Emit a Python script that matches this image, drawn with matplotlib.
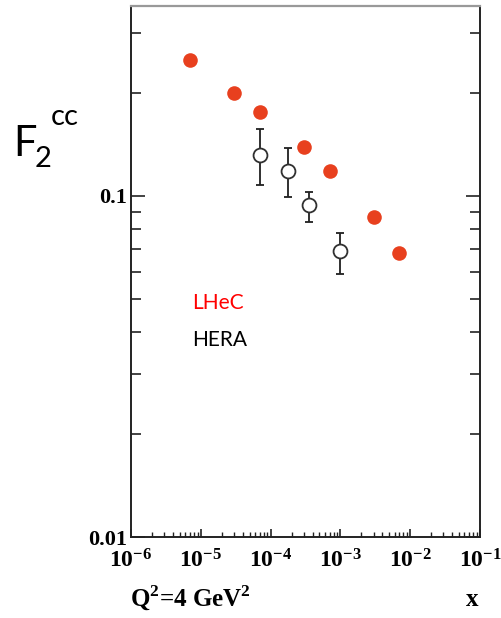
import matplotlib.pyplot as plt
from matplotlib.ticker import LogLocator, NullFormatter, FixedLocator

plt.rcParams['mathtext.fontset'] = 'custom'
plt.rcParams['mathtext.rm'] = 'Liberation Serif:bold'
plt.rcParams['mathtext.bf'] = 'Liberation Serif:bold'

# LHeC pseudo-data
lhec_x = [7e-6, 3e-5, 7e-5, 3e-4, 7e-4, 3e-3, 7e-3]
lhec_f2cc = [0.250, 0.201, 0.176, 0.139, 0.118, 0.087, 0.068]

# HERA measurements
hera_x = [7e-5, 1.8e-4, 3.5e-4, 1e-3]
hera_f2cc = [0.132, 0.118, 0.094, 0.069]
hera_up = [0.157, 0.138, 0.103, 0.078]
hera_lo = [0.108, 0.099, 0.084, 0.059]

xtick_vals = [1e-6, 1e-5, 1e-4, 1e-3, 1e-2, 1e-1]
xtick_labels = [r'$\mathbf{10^{-6}}$', r'$\mathbf{10^{-5}}$', r'$\mathbf{10^{-4}}$',
                r'$\mathbf{10^{-3}}$', r'$\mathbf{10^{-2}}$', r'$\mathbf{10^{-1}}$']

fig = plt.figure(figsize=(5.02, 6.18), dpi=100)
ax = fig.add_axes([0.261, 0.131, 0.695, 0.859])

ax.set_xscale('log')
ax.set_yscale('log')
ax.set_xlim(1e-6, 1e-1)
ax.set_ylim(0.01, 0.36)

ax.plot(lhec_x, lhec_f2cc, 'o', color='#e8401e', ms=10.5, mec='none', zorder=3)

err_lo = [v - l for v, l in zip(hera_f2cc, hera_lo)]
err_hi = [u - v for v, u in zip(hera_f2cc, hera_up)]
ax.errorbar(hera_x, hera_f2cc, yerr=[err_lo, err_hi], fmt='o', ms=10,
            mfc='white', mec='#303030', mew=1.3, ecolor='#202020',
            elinewidth=1.3, capsize=3, capthick=1.3, zorder=4)

# axes styling
for s in ['left', 'right', 'bottom']:
    ax.spines[s].set_color('#222222')
    ax.spines[s].set_linewidth(1.4)
ax.spines['top'].set_color('#999999')
ax.spines['top'].set_linewidth(1.6)

ax.xaxis.set_major_locator(FixedLocator(xtick_vals))
ax.set_xticklabels(xtick_labels, fontsize=17)
ax.xaxis.set_minor_locator(LogLocator(base=10, subs=range(2, 10)))
ax.xaxis.set_minor_formatter(NullFormatter())
ax.tick_params(axis='x', which='major', direction='in', length=6, width=1.2,
               top=False, bottom=True, pad=8, colors='#222222')
ax.tick_params(axis='x', which='minor', direction='in', length=3.5, width=1.0,
               top=False, bottom=True, colors='#222222')

ax.yaxis.set_major_locator(FixedLocator([0.01, 0.1]))
ax.set_yticklabels(['0.01', '0.1'], family='Liberation Serif', weight='bold',
                   fontsize=16)
ax.yaxis.set_minor_locator(LogLocator(base=10, subs=range(2, 10)))
ax.yaxis.set_minor_formatter(NullFormatter())
ax.tick_params(axis='y', which='major', direction='in', length=10, width=1.2,
               left=True, right=True, pad=3, colors='#222222')
ax.tick_params(axis='y', which='minor', direction='in', length=7, width=1.2,
               left=True, right=True, colors='#222222')
for lab in ax.get_xticklabels() + ax.get_yticklabels():
    lab.set_color('black')

# labels
fig.text(130 / 502, 1 - 607 / 618, 'Q$^2$=4 GeV$^2$', family='Liberation Serif',
         weight='bold', fontsize=18, va='baseline', ha='left')
fig.text(472 / 502, 1 - 606 / 618, 'x', family='Liberation Serif',
         weight='bold', fontsize=18, va='baseline', ha='center')

fig.text(13 / 502, 1 - 156 / 618, 'F', family='Lato', fontsize=30,
         va='baseline', ha='left')
fig.text(35 / 502, 1 - 167 / 618, '2', family='Lato', fontsize=21,
         va='baseline', ha='left')
fig.text(51 / 502, 1 - 125 / 618, 'cc', family='Lato', fontsize=21,
         va='baseline', ha='left')

fig.text(192 / 502, 1 - 309 / 618, 'LHeC', family='Lato', fontsize=15,
         color='#ff0000', va='baseline', ha='left')
fig.text(192 / 502, 1 - 346 / 618, 'HERA', family='Lato', fontsize=15,
         color='black', va='baseline', ha='left')

fig.savefig('out.png', dpi=100)
